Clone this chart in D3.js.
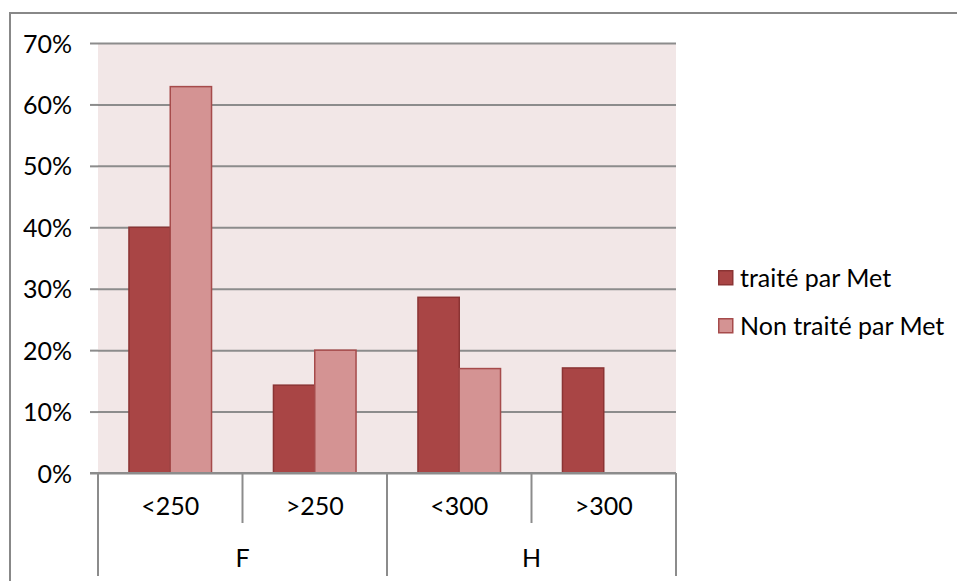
<!DOCTYPE html>
<html>
<head>
<meta charset="utf-8">
<script src="https://cdn.jsdelivr.net/npm/d3@7"></script>
<style>
  html, body { margin: 0; padding: 0; background: #ffffff; }
  svg { display: block; }
  text { font-family: Lato, "Open Sans", sans-serif; fill: #000; }
</style>
</head>
<body>
<svg id="chart" width="957" height="581"></svg>
<script>
// Sub-categories and their parent groups on the category axis
const categories = ["<250", ">250", "<300", ">300"];
const groups = ["F", "F", "H", "H"];
const seriesNames = ["traité par Met", "Non traité par Met"];
const traite = [0.40, 0.143, 0.286, 0.171];
const nonTraite = [0.629, 0.20, 0.17, null];
const yTicks = [0, 0.1, 0.2, 0.3, 0.4, 0.5, 0.6, 0.7];

const colors = {
  fill: ["#a94545", "#d49393"],
  stroke: ["#8b3434", "#a64b4b"]
};

const svg = d3.select("#chart");
const W = 957, H = 581;
const plot = { left: 98, right: 676, top: 43, bottom: 473 };
const axisBottom = 576;
const lineColor = "#8c8c8c";
const fontSize = 25;

// outer chart border (top and left edges visible)
svg.append("rect")
  .attr("x", 10).attr("y", 13)
  .attr("width", W + 20).attr("height", H + 20)
  .attr("fill", "none").attr("stroke", "#888").attr("stroke-width", 2);

const y = d3.scaleLinear().domain([0, 0.7]).range([plot.bottom, plot.top]);
const x0 = d3.scaleBand().domain(d3.range(categories.length))
  .range([plot.left, plot.right]).paddingInner(0).paddingOuter(0);
const x1 = d3.scaleBand().domain(d3.range(seriesNames.length))
  .range([0, x0.bandwidth()]).paddingInner(0).paddingOuter(0.75);

// plot background
svg.append("rect")
  .attr("x", plot.left).attr("y", plot.top)
  .attr("width", plot.right - plot.left).attr("height", plot.bottom - plot.top)
  .attr("fill", "#f2e7e7");

// horizontal gridlines
const grid = svg.append("g")
  .attr("transform", `translate(${plot.left},0)`)
  .call(d3.axisLeft(y).tickValues(yTicks).tickSize(-(plot.right - plot.left)).tickFormat(""));
grid.select(".domain").remove();
grid.selectAll(".tick line").attr("stroke", lineColor).attr("stroke-width", 2);

// value axis with tick marks and percent labels
const yAxis = svg.append("g")
  .attr("transform", `translate(${plot.left},0)`)
  .call(d3.axisLeft(y).tickValues(yTicks).tickSize(8).tickPadding(18)
    .tickFormat(d3.format(".0%")));
yAxis.select(".domain").remove();
yAxis.selectAll(".tick line").attr("stroke", lineColor).attr("stroke-width", 2);
yAxis.selectAll(".tick text")
  .attr("font-size", fontSize).attr("fill", "#000")
  .attr("font-family", "Lato, 'Open Sans', sans-serif")
  .attr("dy", "0.36em");

// bars
const data = [traite, nonTraite];
const barG = svg.append("g");
data.forEach((vals, s) => {
  barG.selectAll(null)
    .data(vals.map((v, i) => ({ v, i })).filter(d => d.v != null))
    .join("rect")
    .attr("x", d => x0(d.i) + x1(s))
    .attr("y", d => y(d.v))
    .attr("width", x1.bandwidth())
    .attr("height", d => y(0) - y(d.v))
    .attr("fill", colors.fill[s])
    .attr("stroke", colors.stroke[s])
    .attr("stroke-width", 1.5);
});

// category axis frame
const frame = svg.append("g").attr("stroke", lineColor).attr("stroke-width", 2);
frame.append("line")
  .attr("x1", plot.left - 8).attr("x2", plot.right)
  .attr("y1", plot.bottom).attr("y2", plot.bottom);
const boundaries = d3.range(categories.length + 1);
boundaries.forEach(b => {
  const xb = b < categories.length ? x0(b) : plot.right;
  const isGroupEdge = b === 0 || b === categories.length || groups[b] !== groups[b - 1];
  frame.append("line")
    .attr("x1", xb).attr("x2", xb)
    .attr("y1", plot.bottom).attr("y2", isGroupEdge ? axisBottom : 523);
});

// sub-category labels
svg.append("g").selectAll("text")
  .data(categories)
  .join("text")
  .attr("x", (d, i) => x0(i) + x0.bandwidth() / 2)
  .attr("y", 515)
  .attr("text-anchor", "middle")
  .attr("font-size", fontSize)
  .text(d => d);

// group labels
const groupNames = Array.from(new Set(groups));
svg.append("g").selectAll("text")
  .data(groupNames)
  .join("text")
  .attr("x", g => {
    const idx = groups.map((v, i) => v === g ? i : -1).filter(i => i >= 0);
    return (x0(idx[0]) + x0(idx[idx.length - 1]) + x0.bandwidth()) / 2;
  })
  .attr("y", 567)
  .attr("text-anchor", "middle")
  .attr("font-size", fontSize)
  .text(g => g);

// legend
const legend = svg.append("g").attr("transform", "translate(718,270)");
seriesNames.forEach((name, s) => {
  const row = legend.append("g").attr("transform", `translate(0,${s * 48})`);
  row.append("rect")
    .attr("x", 0.75).attr("y", 0.75)
    .attr("width", 14).attr("height", 14)
    .attr("fill", colors.fill[s])
    .attr("stroke", colors.stroke[s])
    .attr("stroke-width", 1.5);
  row.append("text")
    .attr("x", 22).attr("y", 8)
    .attr("dy", "0.36em")
    .attr("font-size", fontSize)
    .text(name);
});
</script>
</body>
</html>
